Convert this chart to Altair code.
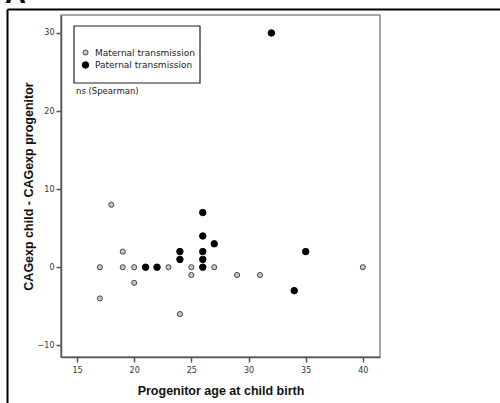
import altair as alt
import pandas as pd

# Progenitor age at child birth and CAG expansion difference (child - progenitor)
maternal_age = [17, 17, 18, 19, 19, 20, 20, 23, 24, 25, 25, 27, 29, 31, 40]
maternal_diff = [0, -4, 8, 2, 0, 0, -2, 0, -6, 0, -1, 0, -1, -1, 0]
paternal_age = [21, 22, 24, 24, 26, 26, 26, 26, 26, 27, 32, 34, 35]
paternal_diff = [0, 0, 2, 1, 7, 4, 2, 1, 0, 3, 30, -3, 2]

groups = ["Maternal transmission", "Paternal transmission"]
x_ticks = [15, 20, 25, 30, 35, 40]
y_ticks = [-10, 0, 10, 20, 30]

df = pd.DataFrame({
    "age": maternal_age + paternal_age,
    "diff": maternal_diff + paternal_diff,
    "group": [groups[0]] * len(maternal_age) + [groups[1]] * len(paternal_age),
})
one = pd.DataFrame({"k": [0]})

FONT = "DejaVu Sans"
W, H = 319, 342
LEFT, TOP = 61, 15

points = alt.Chart(df).mark_point(filled=True, opacity=1, strokeWidth=1).encode(
    x=alt.X("age:Q",
            scale=alt.Scale(domain=[13.6, 41.5], nice=False, zero=False),
            axis=alt.Axis(values=x_ticks, title="Progenitor age at child birth",
                          titleY=37, titleBaseline="alphabetic", labelPadding=4)),
    y=alt.Y("diff:Q",
            scale=alt.Scale(domain=[-11.5, 32.3], nice=False, zero=False),
            axis=alt.Axis(values=y_ticks, title="CAGexp child - CAGexp progenitor",
                          titleX=-26, labelPadding=2)),
    fill=alt.Fill("group:N", scale=alt.Scale(domain=groups, range=["#c8c8c8", "#000000"]),
                  legend=alt.Legend(title=None)),
    stroke=alt.Stroke("group:N", scale=alt.Scale(domain=groups, range=["#444444", "#000000"]),
                      legend=alt.Legend(title=None)),
    size=alt.Size("group:N", scale=alt.Scale(domain=groups, range=[26, 42]),
                  legend=alt.Legend(title=None)),
    shape=alt.value("circle"),
)

# Box around the legend entries
legend_box = alt.Chart(one).mark_rect(fill="white", stroke="#222222", strokeWidth=1.2).encode(
    x=alt.value(74 - LEFT), x2=alt.value(200 - LEFT),
    y=alt.value(26 - TOP), y2=alt.value(83 - TOP))

note = alt.Chart(one).mark_text(
    text="ns (Spearman)", align="left", baseline="middle", font=FONT, fontSize=8.5, color="#222222"
).encode(x=alt.value(15), y=alt.value(76))

# Panel frame and panel letter
top_line = alt.Chart(one).mark_rule(color="black", strokeWidth=2).encode(
    x=alt.value(7.5 - LEFT), x2=alt.value(500 - LEFT), y=alt.value(9.5 - TOP))
left_line = alt.Chart(one).mark_rule(color="black", strokeWidth=2).encode(
    x=alt.value(7.5 - LEFT), y=alt.value(9.5 - TOP), y2=alt.value(403 - TOP))
letter = alt.Chart(one).mark_text(
    text="A", align="left", baseline="alphabetic", font="Liberation Sans",
    fontSize=29, fontWeight="bold", color="black"
).encode(x=alt.value(5 - LEFT), y=alt.value(3 - TOP))

chart = alt.layer(legend_box, points, note, top_line, left_line, letter).properties(
    width=W, height=H,
    autosize=alt.AutoSizeParams(type="none"),
    padding={"left": LEFT, "top": TOP, "right": 500 - LEFT - W, "bottom": 403 - TOP - H},
).configure_view(
    stroke="#8a8a8a", strokeWidth=1.5
).configure_axis(
    grid=False, domainColor="#555555", domainWidth=1.5, tickColor="#555555",
    tickSize=5, tickWidth=1.5, labelFont=FONT, labelFontSize=8, labelColor="#333333",
    titleFont="Liberation Sans", titleFontSize=12.5, titleFontWeight="bold", titleColor="#111111",
).configure_legend(
    orient="none", legendX=20, legendY=33, padding=0,
    labelFont=FONT, labelFontSize=9, labelColor="#222222", symbolStrokeWidth=1,
    rowPadding=1.5, labelLimit=200, labelOffset=5,
)

chart.save("out.html", embed_options={"renderer": "svg", "actions": False})
